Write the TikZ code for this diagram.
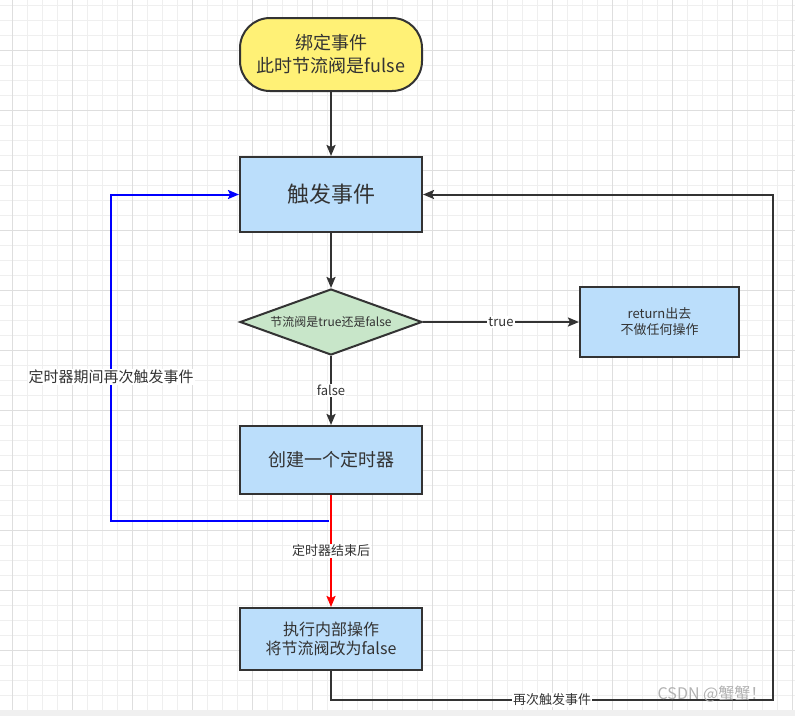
\documentclass[tikz,border=0pt]{standalone}
\usepackage{fontspec}
\setmainfont{Noto Sans CJK SC}
\usetikzlibrary{shapes.geometric,arrows.meta}
\definecolor{ln}{HTML}{333333}
\definecolor{yel}{HTML}{FFF176}
\definecolor{blu}{HTML}{BBDEFB}
\definecolor{grn}{HTML}{C8E6C9}
\definecolor{gminor}{HTML}{EFEFEF}
\definecolor{gmajor}{HTML}{DEDEDE}
\definecolor{strip}{HTML}{F0F0F0}
\begin{document}
\begin{tikzpicture}[x=1pt,y=-1pt,
  box/.style={draw=ln,line width=2pt,fill=blu,inner sep=0pt,align=center,text=ln},
  startbox/.style={box,fill=yel,rounded corners=30pt},
  decision/.style={diamond,draw=ln,line width=2pt,fill=grn,inner sep=0pt,align=center,text=ln,aspect=2.76},
  conn/.style={draw=ln,line width=2pt,-{Stealth[length=11pt,width=9pt,inset=2pt]}},
  plain/.style={draw=ln,line width=2pt},
  lbl/.style={fill=white,inner sep=1pt,text=ln},
  fs/.style={font=\fontsize{#1pt}{#1pt}\selectfont}
]
\useasboundingbox (0,0) rectangle (795,716);
\fill[white] (0,0) rectangle (795,716);
% grid
\foreach \x in {12,27,...,792} \draw[gminor,line width=1pt] (\x,0) -- (\x,710);
\foreach \y in {5.7,20.7,...,709} \draw[gminor,line width=1pt] (0,\y) -- (795,\y);
\foreach \x in {12,72,...,792} \draw[gmajor,line width=1pt] (\x,0) -- (\x,710);
\foreach \y in {50.7,110.7,...,709} \draw[gmajor,line width=1pt] (0,\y) -- (795,\y);
\fill[strip] (0,710) rectangle (795,716);

% nodes
\node[startbox,minimum width=182pt,minimum height=73pt,font=\fontsize{18pt}{23pt}\selectfont] (start) at (331,54.5) {绑定事件\\此时节流阀是fulse};
\node[box,minimum width=182pt,minimum height=75pt,fs=22] (trig) at (331,194.5) {触发事件};
\node[decision,minimum width=182pt,minimum height=66pt,fs=12] (dec) at (331,322) {节流阀是true还是false};
\node[box,minimum width=159pt,minimum height=70pt,font=\fontsize{13pt}{16pt}\selectfont] (ret) at (659.5,322) {return出去\\不做任何操作};
\node[box,minimum width=182pt,minimum height=68pt,fs=18] (timer) at (331,460) {创建一个定时器};
\node[box,minimum width=182pt,minimum height=62pt,font=\fontsize{16pt}{19pt}\selectfont] (exec) at (331,639) {执行内部操作\\将节流阀改为false};

% connectors
\draw[conn] (start) -- (trig);
\draw[conn] (trig) -- (dec);
\draw[conn] (dec.east) -- node[lbl,fs=13] (ltrue) {true} (ret.west);
\draw[conn] (dec.south) -- node[lbl,fs=13] (lfalse) {false} (timer.north);
\draw[conn,draw=red,-{Stealth[length=11pt,width=9pt,inset=2pt]},red] (timer.south) -- node[lbl,fs=13,text=ln] (lend) {定时器结束后} (exec.north);

\coordinate (bstart) at (329,521);
\coordinate (bl) at (111,521);
\draw[line width=2pt,blue,-{Stealth[length=11pt,width=9pt,inset=2pt]}] (bstart) -- (bl) |- (trig.west);
\node[lbl,fs=15] (lblue) at (111,377) {定时器期间再次触发事件};

\coordinate (br) at (773,700);
\draw[conn] (exec.south) |- (br) |- (trig.east);
\node[lbl,fs=13] (lagain) at (552,700) {再次触发事件};

\node[text=black!30,fs=16,inner sep=0pt] (wm) at (712,694) {CSDN @蟹蟹！};
\end{tikzpicture}
\end{document}
